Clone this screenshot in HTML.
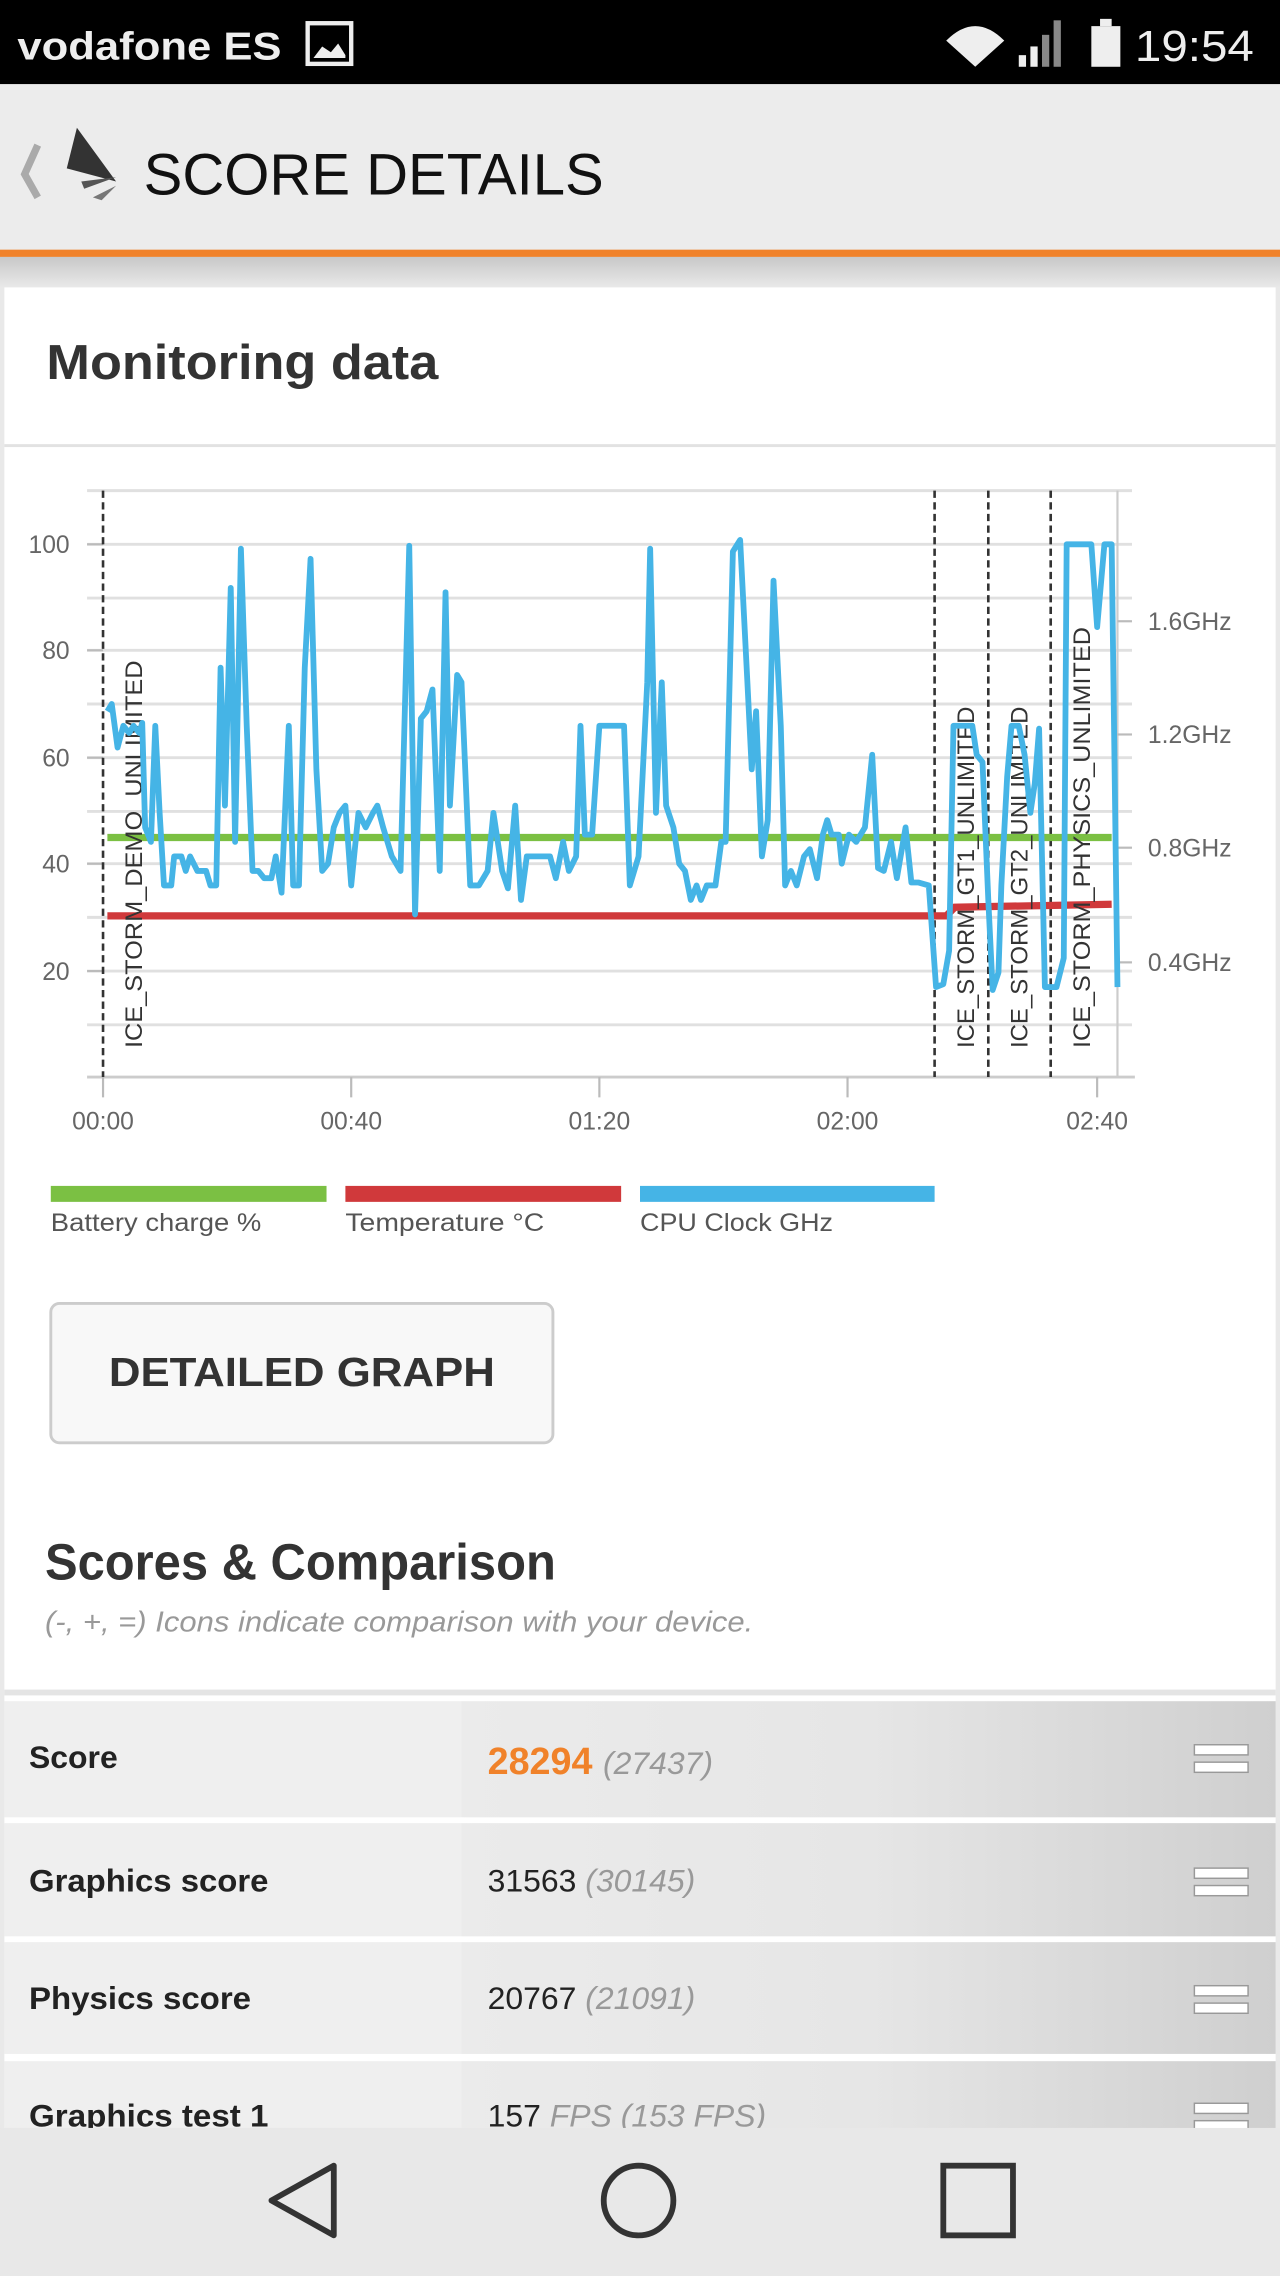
<!DOCTYPE html>
<html><head><meta charset="utf-8"><style>html,body{margin:0;padding:0;background:#e9e9e9;}svg{display:block}</style></head>
<body>
<svg width="1280" height="2276" viewBox="0 0 882 1568" preserveAspectRatio="none" xmlns="http://www.w3.org/2000/svg" font-family="Liberation Sans, sans-serif">
<defs>
<linearGradient id="rg" x1="0" x2="1" y1="0" y2="0"><stop offset="0" stop-color="#ebebeb"/><stop offset="0.5" stop-color="#e6e6e6"/><stop offset="1" stop-color="#cfcfcf"/></linearGradient>
<linearGradient id="sh" x1="0" x2="0" y1="0" y2="1"><stop offset="0" stop-color="#c8c8c8"/><stop offset="1" stop-color="#e9e9e9"/></linearGradient>
</defs>
<rect width="882" height="1568" fill="#e9e9e9"/>
<rect width="882" height="58" fill="#000"/>
<text x="12" y="41" fill="#eee" font-size="27" font-weight="bold" textLength="182" lengthAdjust="spacingAndGlyphs">vodafone ES</text>
<rect x="212" y="16" width="30" height="28" fill="none" stroke="#eee" stroke-width="3"/>
<path d="M216 40 L222 32 L228 36 L233 30 L238 38 L238 40 Z" fill="#eee"/>
<path d="M652 28 Q672 8 692 28 L672 46 Z" fill="#eee"/>
<rect x="702" y="38" width="5" height="8" fill="#eee"/><rect x="710" y="32" width="5" height="14" fill="#eee"/><rect x="718" y="24" width="5" height="22" fill="#888"/><rect x="726" y="14" width="5" height="32" fill="#888"/>
<rect x="752" y="18" width="20" height="28" fill="#eee"/><rect x="758" y="13" width="8" height="5" fill="#eee"/>
<text x="782" y="42" fill="#eee" font-size="30" textLength="82" lengthAdjust="spacingAndGlyphs">19:54</text>
<rect y="58" width="882" height="114" fill="#ececec"/>
<rect y="172" width="882" height="5" fill="#f0822a"/>
<rect y="177" width="882" height="21" fill="url(#sh)"/>
<path d="M26 100 L17 120 L26 136" fill="none" stroke="#aaa" stroke-width="5"/>
<path d="M53 88 L80 125 L46 116 Z" fill="#333"/><path d="M56 125 L80 122 L58 130 Z" fill="#555"/><path d="M64 136 L80 128 L70 138 Z" fill="#777"/>
<text x="99" y="134" fill="#111" font-size="40" textLength="317" lengthAdjust="spacingAndGlyphs">SCORE DETAILS</text>
<rect x="3" y="198" width="876" height="1370" fill="#fff"/>
<text x="32" y="261" fill="#333" font-size="34" font-weight="bold" textLength="270" lengthAdjust="spacingAndGlyphs">Monitoring data</text>
<rect x="3" y="306" width="876" height="2" fill="#e2e2e2"/>
<g stroke="#e0e0e0" stroke-width="2">
<line x1="60" x2="780" y1="338" y2="338"/><line x1="60" x2="780" y1="375" y2="375"/><line x1="60" x2="780" y1="412" y2="412"/><line x1="60" x2="780" y1="448" y2="448"/><line x1="60" x2="780" y1="485" y2="485"/><line x1="60" x2="780" y1="522" y2="522"/><line x1="60" x2="780" y1="559" y2="559"/><line x1="60" x2="780" y1="595" y2="595"/><line x1="60" x2="780" y1="632" y2="632"/><line x1="60" x2="780" y1="669" y2="669"/><line x1="60" x2="780" y1="706" y2="706"/>
</g>
<line x1="60" x2="782" y1="742" y2="742" stroke="#ccc" stroke-width="2"/>
<line x1="770" x2="770" y1="338" y2="742" stroke="#ccc" stroke-width="1.5"/>
<g stroke="#bbb" stroke-width="1.5">
<line x1="60" x2="71" y1="375" y2="375"/><line x1="60" x2="71" y1="448" y2="448"/><line x1="60" x2="71" y1="522" y2="522"/><line x1="60" x2="71" y1="595" y2="595"/><line x1="60" x2="71" y1="669" y2="669"/>
<line x1="770" x2="780" y1="428" y2="428"/><line x1="770" x2="780" y1="506" y2="506"/><line x1="770" x2="780" y1="584" y2="584"/><line x1="770" x2="780" y1="663" y2="663"/>
<line x1="71" x2="71" y1="742" y2="756"/><line x1="242" x2="242" y1="742" y2="756"/><line x1="413" x2="413" y1="742" y2="756"/><line x1="584" x2="584" y1="742" y2="756"/><line x1="756" x2="756" y1="742" y2="756"/>
</g>
<g fill="#666" font-size="17" text-anchor="end">
<text x="48" y="381">100</text><text x="48" y="454">80</text><text x="48" y="528">60</text><text x="48" y="601">40</text><text x="48" y="675">20</text>
</g>
<g fill="#666" font-size="17">
<text x="791" y="434">1.6GHz</text><text x="791" y="512">1.2GHz</text><text x="791" y="590">0.8GHz</text><text x="791" y="669">0.4GHz</text>
</g>
<g fill="#666" font-size="17" text-anchor="middle">
<text x="71" y="778">00:00</text><text x="242" y="778">00:40</text><text x="413" y="778">01:20</text><text x="584" y="778">02:00</text><text x="756" y="778">02:40</text>
</g>
<g stroke="#333" stroke-width="1.8" stroke-dasharray="5,3">
<line x1="71" x2="71" y1="338" y2="742"/><line x1="644" x2="644" y1="338" y2="742"/><line x1="681" x2="681" y1="338" y2="742"/><line x1="724" x2="724" y1="338" y2="742"/>
</g>
<line x1="74" x2="766" y1="577" y2="577" stroke="#7bc043" stroke-width="5"/>
<polyline points="74,631 652,631 658,625 766,623" fill="none" stroke="#d0393b" stroke-width="5"/>
<g fill="#333" font-size="16.5">
<text transform="translate(98,722) rotate(-90)" textLength="267" lengthAdjust="spacingAndGlyphs">ICE_STORM_DEMO_UNLIMITED</text>
<text transform="translate(671,722) rotate(-90)">ICE_STORM_GT1_UNLIMITED</text>
<text transform="translate(708,722) rotate(-90)">ICE_STORM_GT2_UNLIMITED</text>
<text transform="translate(751,722) rotate(-90)" textLength="290" lengthAdjust="spacingAndGlyphs">ICE_STORM_PHYSICS_UNLIMITED</text>
</g>
<polyline fill="none" stroke="#45b4e6" stroke-width="4" stroke-linejoin="round" points="74,490 77,485 81,515 85,500 89,505 92,500 96,505 98,498 100,570 104,580 107,500 110,560 113,610 118,610 120,590 125,590 128,600 131,590 136,600 142,600 145,610 149,610 152,460 155,555 159,405 162,580 166,378 170,500 174,600 178,600 182,605 187,605 190,590 194,615 199,500 202,610 206,610 210,460 214,385 218,530 222,600 226,595 230,570 234,560 238,555 242,610 247,560 252,570 257,560 260,555 264,570 270,590 276,600 282,376 286,630 290,495 294,490 298,475 303,600 307,408 310,555 315,465 318,470 324,610 330,610 336,600 340,560 346,600 350,612 355,555 359,620 363,590 367,590 372,590 379,590 383,605 388,580 392,600 397,590 400,500 403,575 408,575 413,500 430,500 434,610 440,590 446,470 448,378 452,560 456,470 459,555 464,570 468,595 472,600 476,620 480,610 483,620 487,610 493,610 497,580 500,580 505,380 510,372 515,470 518,530 521,490 525,590 529,565 533,400 538,500 541,610 545,600 549,610 554,590 558,585 563,605 567,575 570,565 573,575 578,575 580,595 585,575 590,580 596,570 601,520 605,598 609,600 614,580 618,605 624,570 628,608 633,608 640,610 645,680 650,678 654,655 657,500 664,500 670,500 673,520 677,525 681,620 684,682 688,670 690,610 694,535 697,500 702,500 706,520 710,560 713,540 716,502 720,680 724,680 728,680 733,660 735,375 752,375 756,432 761,375 766,375 770,680"/>
<rect x="35" y="817" width="190" height="11" fill="#7bc043"/>
<rect x="238" y="817" width="190" height="11" fill="#d0393b"/>
<rect x="441" y="817" width="203" height="11" fill="#45b4e6"/>
<g fill="#555" font-size="17"><text x="35" y="848" textLength="145" lengthAdjust="spacingAndGlyphs">Battery charge %</text><text x="238" y="848" textLength="137" lengthAdjust="spacingAndGlyphs">Temperature °C</text><text x="441" y="848" textLength="133" lengthAdjust="spacingAndGlyphs">CPU Clock GHz</text></g>
<rect x="35" y="898" width="346" height="96" rx="6" fill="#f8f8f8" stroke="#ccc" stroke-width="2"/>
<text x="75" y="955" fill="#333" font-size="28" font-weight="bold" textLength="266" lengthAdjust="spacingAndGlyphs">DETAILED GRAPH</text>
<text x="31" y="1088" fill="#333" font-size="35" font-weight="bold" textLength="352" lengthAdjust="spacingAndGlyphs">Scores &amp; Comparison</text>
<text x="31" y="1124" fill="#999" font-size="20" font-style="italic" textLength="488" lengthAdjust="spacingAndGlyphs">(-, +, =) Icons indicate comparison with your device.</text>
<rect x="3" y="1164" width="876" height="4" fill="#e4e4e4"/>
<g>
<rect x="3" y="1172" width="315" height="80" fill="#efefef"/><rect x="318" y="1172" width="561" height="80" fill="url(#rg)"/>
<rect x="3" y="1256" width="315" height="78" fill="#efefef"/><rect x="318" y="1256" width="561" height="78" fill="url(#rg)"/>
<rect x="3" y="1338" width="315" height="77" fill="#efefef"/><rect x="318" y="1338" width="561" height="77" fill="url(#rg)"/>
<rect x="3" y="1420" width="315" height="50" fill="#efefef"/><rect x="318" y="1420" width="561" height="50" fill="url(#rg)"/>
</g>
<g fill="#222" font-size="22" font-weight="bold">
<text x="20" y="1218">Score</text><text x="20" y="1303" textLength="165" lengthAdjust="spacingAndGlyphs">Graphics score</text><text x="20" y="1384" textLength="153" lengthAdjust="spacingAndGlyphs">Physics score</text><text x="20" y="1465" textLength="165" lengthAdjust="spacingAndGlyphs">Graphics test 1</text>
</g>
<text x="336" y="1222" fill="#f0822a" font-size="26" font-weight="bold">28294 <tspan fill="#999" font-size="22" font-weight="normal" font-style="italic">(27437)</tspan></text>
<text x="336" y="1303" fill="#222" font-size="22">31563 <tspan fill="#999" font-style="italic">(30145)</tspan></text>
<text x="336" y="1384" fill="#222" font-size="22">20767 <tspan fill="#999" font-style="italic">(21091)</tspan></text>
<text x="336" y="1465" fill="#222" font-size="22">157 <tspan fill="#999" font-style="italic">FPS (153 FPS)</tspan></text>
<g fill="#fff" stroke="#999" stroke-width="1">
<rect x="823" y="1202" width="37" height="7"/><rect x="823" y="1214" width="37" height="7"/>
<rect x="823" y="1287" width="37" height="7"/><rect x="823" y="1299" width="37" height="7"/>
<rect x="823" y="1368" width="37" height="7"/><rect x="823" y="1380" width="37" height="7"/>
<rect x="823" y="1449" width="37" height="7"/><rect x="823" y="1461" width="37" height="7"/>
</g>
<rect y="1466" width="882" height="102" fill="#e8e8e8"/>
<path d="M230 1492 L230 1540 L187 1516 Z" fill="none" stroke="#333" stroke-width="4" stroke-linejoin="round"/>
<circle cx="440" cy="1516" r="24" fill="none" stroke="#333" stroke-width="4"/>
<rect x="650" y="1492" width="48" height="48" fill="none" stroke="#333" stroke-width="4"/>
</svg>
</body></html>
